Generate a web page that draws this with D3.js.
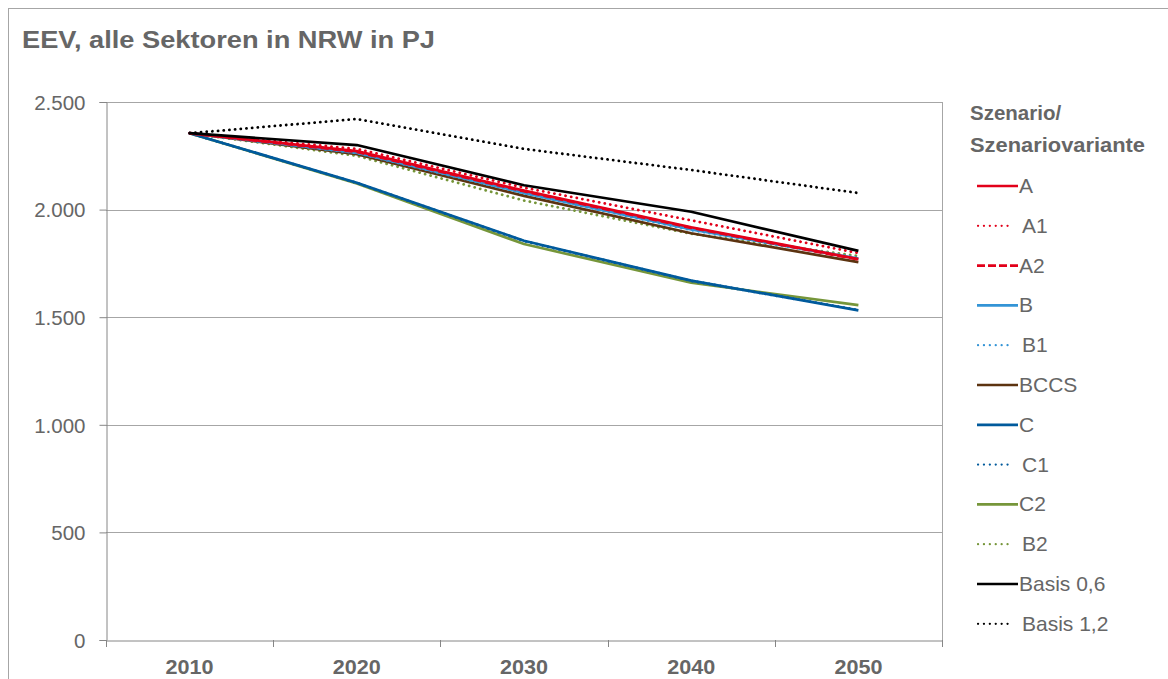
<!DOCTYPE html>
<html><head><meta charset="utf-8">
<script src="https://cdn.jsdelivr.net/npm/d3@7"></script>
<style>body{margin:0;background:#fff;font-family:Arial,"Liberation Sans",sans-serif;}</style>
</head><body><svg id="c" width="1168" height="679"></svg>
<script>
const years = ["2010","2020","2030","2040","2050"];
const yTicks = [0,500,1000,1500,2000,2500];
const seriesNames = ["A","A1","A2","B","B1","BCCS","C","C1","C2","B2","Basis 0,6","Basis 1,2"];
const vA    = [2355,2272,2088,1918,1770];
const vA1   = [2355,2282,2102,1950,1798];
const vA2   = [2355,2268,2085,1915,1768];
const vB    = [2355,2265,2078,1908,1772];
const vB1   = [2355,2263,2076,1905,1775];
const vBCCS = [2355,2258,2064,1890,1756];
const vC    = [2355,2125,1855,1670,1532];
const vC1   = [2355,2124,1854,1669,1533];
const vC2   = [2355,2121,1840,1660,1556];
const vB2   = [2355,2250,2042,1888,1784];
const vB06  = [2355,2300,2113,1990,1808];
const vB12  = [2355,2421,2282,2184,2077];
const colors = ["#e2001a","#e2001a","#e2001a","#3394d6","#3394d6","#5c3310","#005a9c","#005a9c","#76963a","#76963a","#000000","#000000"];
const styles = ["solid","dot","dash","solid","dot","solid","solid","dot","solid","dot","solid","dot"];
const values = [vA,vA1,vA2,vB,vB1,vBCCS,vC,vC1,vC2,vB2,vB06,vB12];
// drawing order (back to front)
const order = [9,8,6,7,5,3,4,0,2,1,10,11];

const svg = d3.select("#c");
const grey = "#666666";
const FF = "Arial,'Liberation Sans',sans-serif";
svg.append("rect").attr("x",8.5).attr("y",8.5).attr("width",1200).attr("height",700)
  .attr("fill","none").attr("stroke","#a6a6a6").attr("stroke-width",1);
svg.append("text").attr("x",22).attr("y",48).text("EEV, alle Sektoren in NRW in PJ")
  .attr("font-size",24.5).attr("font-weight","bold").attr("fill",grey)
  .attr("textLength",413).attr("lengthAdjust","spacingAndGlyphs");

const L=106, R=942, T=102, B=640;
const x = d3.scaleBand().domain(years).range([L,R]);
const y = d3.scaleLinear().domain([0,2500]).range([B,T]);

// grid
svg.append("g").selectAll("line").data(yTicks.filter(d=>d>0)).join("line")
  .attr("x1",L).attr("x2",R).attr("y1",d=>Math.round(y(d))+0.5).attr("y2",d=>Math.round(y(d))+0.5)
  .attr("stroke","#a6a6a6").attr("stroke-width",1);
// right border
svg.append("line").attr("x1",R+0.5).attr("x2",R+0.5).attr("y1",T).attr("y2",B+6).attr("stroke","#a6a6a6");

const fmt = d => d3.format(",")(d).replace(/,/g,".");
const ya = svg.append("g").attr("transform",`translate(${L+0.5},0)`)
  .call(d3.axisLeft(y).tickValues(yTicks).tickFormat(fmt).tickSize(7).tickPadding(14));
ya.select(".domain").attr("stroke","#868686");
ya.selectAll(".tick line").attr("stroke","#868686");
ya.selectAll("text").attr("font-size",20.5).attr("fill",grey).attr("font-family",FF).attr("dy","0.36em");

const xa = svg.append("g").attr("transform",`translate(0,${B+0.5})`)
  .call(d3.axisBottom(x).tickSize(0).tickPadding(19));
xa.select(".domain").attr("stroke","#868686");
xa.selectAll("text").attr("font-size",20).attr("font-weight","bold").attr("fill",grey).attr("font-family",FF)
  .attr("textLength",48).attr("lengthAdjust","spacingAndGlyphs");
// category boundary ticks
const bounds = years.map(d=>x(d)).concat([R]);
svg.append("g").selectAll("line").data(bounds).join("line")
  .attr("x1",d=>Math.round(d)+0.5).attr("x2",d=>Math.round(d)+0.5).attr("y1",B).attr("y2",B+7)
  .attr("stroke","#868686");

function dashFor(s){ if(s==="dot") return "0.1 5.6"; if(s==="dash") return "8 4"; return null; }
const line = d3.line().x((d,i)=>x(years[i])+x.bandwidth()/2).y(d=>y(d));
order.forEach(i=>{
  const s = styles[i];
  svg.append("path").datum(values[i]).attr("d",line).attr("fill","none")
    .attr("stroke",colors[i]).attr("stroke-width", s==="dot"?2.8:2.7)
    .attr("stroke-linecap", s==="dot"?"round":"butt").attr("stroke-linejoin","round")
    .attr("stroke-dasharray",dashFor(s));
});

// legend
const lg = svg.append("g");
lg.append("text").attr("x",970).attr("y",120).text("Szenario/").attr("font-size",20.5).attr("font-weight","bold").attr("fill",grey);
lg.append("text").attr("x",970).attr("y",152).text("Szenariovariante").attr("font-size",20.5).attr("font-weight","bold").attr("fill",grey)
  .attr("textLength",175).attr("lengthAdjust","spacingAndGlyphs");
seriesNames.forEach((n,i)=>{
  const yy = 186 + i*39.8;
  const s = styles[i];
  lg.append("line").attr("x1",s==="dot"?978:977).attr("x2",s==="dot"?1013:1018).attr("y1",yy).attr("y2",yy)
    .attr("stroke",colors[i]).attr("stroke-width",s==="dot"?2.2:2.7)
    .attr("stroke-linecap",s==="dot"?"round":"butt")
    .attr("stroke-dasharray", s==="dot"?"0.1 5.8":(s==="dash"?"8 3":null));
  lg.append("text").attr("x",s==="dot"?1022:1019).attr("y",yy+7).text(n).attr("font-size",21).attr("fill",grey);
});
</script></body></html>
